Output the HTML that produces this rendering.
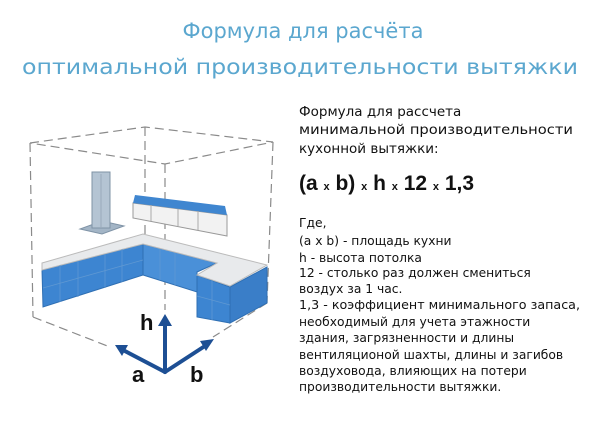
<!DOCTYPE html>
<html><head><meta charset="utf-8"><style>
html,body{margin:0;padding:0;background:#fff;}
svg{display:block;}
</style></head><body>
<svg width="600" height="421" viewBox="0 0 600 421" xmlns="http://www.w3.org/2000/svg">
<g font-family="'DejaVu Sans','Liberation Sans',sans-serif" fill="#5ba7cf" text-anchor="middle">
<text x="303" y="38" font-size="21">Формула для расчёта</text>
<text x="300" y="74" font-size="21" textLength="556" lengthAdjust="spacingAndGlyphs">оптимальной производительности вытяжки</text>
</g>
<!-- dashed box -->
<g stroke="#8a8a8a" stroke-width="1.2" stroke-dasharray="9,5" fill="none">
<polyline points="30,143 145,127 273,142 165,164 30,143"/>
<line x1="145" y1="127" x2="145" y2="237"/>
<line x1="165" y1="164" x2="165" y2="310"/>
<line x1="30" y1="143" x2="33" y2="317"/>
<line x1="273" y1="142" x2="267" y2="303"/>
<line x1="33" y1="317" x2="110" y2="347"/>
<line x1="267" y1="303" x2="213" y2="337"/>
</g>
<!-- hood -->
<polygon points="80,229 102,234 124,226 102,221" fill="#a3b5c6" stroke="#7f93a6"/>
<rect x="92" y="172" width="18" height="56" fill="#b4c4d3" stroke="#7f93a6"/>
<line x1="101" y1="174" x2="101" y2="228" stroke="#9aaabb"/>
<!-- upper cabinet -->
<polygon points="133,203 227,215 227,236 133,218" fill="#f2f2f2" stroke="#999"/>
<polygon points="135,195 225,206 227,215 133,203" fill="#3f86d0"/>
<g stroke="#aaa"><line x1="151" y1="205" x2="151" y2="221"/><line x1="178" y1="209" x2="178" y2="226"/><line x1="198" y1="211" x2="198" y2="230"/></g>
<!-- base counters: blue fronts -->
<polygon points="42,270 143,244 143,275 43,307" fill="#3d85d1" stroke="#2f6fb3"/>
<polygon points="143,244 217,263 197,272 197,292 143,275" fill="#4a90d8" stroke="#2f6fb3"/>
<polygon points="197,275 230,287 230,323 197,317" fill="#3d85d1" stroke="#2f6fb3"/>
<polygon points="230,287 267,267 267,303 230,323" fill="#3a7ec8" stroke="#2f6fb3"/>
<!-- counter top -->
<polygon points="42,263 143,234 267,265 230,286 197,275 217,263 143,244 42,270" fill="#e8eaec" stroke="#bbb"/>
<g stroke="#5f98d2" stroke-width="0.8">
<line x1="60" y1="265" x2="60" y2="302"/><line x1="78" y1="261" x2="78" y2="297"/><line x1="105" y1="254" x2="105" y2="288"/><line x1="122" y1="249" x2="122" y2="282"/>
<line x1="43" y1="288" x2="143" y2="260"/><line x1="160" y1="249" x2="160" y2="280"/><line x1="175" y1="253" x2="175" y2="285"/>
<line x1="197" y1="296" x2="230" y2="305"/><line x1="212" y1="280" x2="212" y2="320"/>
</g>
<!-- axes -->
<g stroke="#1d4f94" stroke-width="4" fill="none" stroke-linecap="round">
<line x1="165" y1="372" x2="165" y2="322"/>
<line x1="165" y1="372" x2="121" y2="349"/>
<line x1="165" y1="372" x2="208" y2="344"/>
</g>
<g fill="#1d4f94">
<polygon points="165,314 158,326 172,326"/>
<polygon points="115,345 128,345 122,356"/>
<polygon points="214,339 206,351 200,341"/>
</g>
<g font-family="'Liberation Sans',sans-serif" font-weight="bold" font-size="22" fill="#111">
<text x="140" y="330">h</text><text x="132" y="382">a</text><text x="190" y="382">b</text>
</g>
<!-- right text -->
<g font-family="'DejaVu Sans','Liberation Sans',sans-serif" fill="#111" font-size="13.5">
<text x="299" y="116">Формула для рассчета</text>
<text x="299" y="134" textLength="274" lengthAdjust="spacingAndGlyphs">минимальной производительности</text>
<text x="299" y="153">кухонной вытяжки:</text>
</g>
<text x="299" y="190" font-family="'Liberation Sans',sans-serif" font-weight="bold" font-size="21" fill="#111">(a <tspan font-size="11">x</tspan> b) <tspan font-size="11">x</tspan> h <tspan font-size="11">x</tspan> 12 <tspan font-size="11">x</tspan> 1,3</text>
<g font-family="'DejaVu Sans','Liberation Sans',sans-serif" fill="#111" font-size="12.3">
<text x="299" y="227">Где,</text>
<text x="299" y="245">(a x b) - площадь кухни</text>
<text x="299" y="262">h - высота потолка</text>
<text x="299" y="277">12 - столько раз должен смениться</text>
<text x="299" y="293">воздух за 1 час.</text>
<text x="299" y="309" textLength="281" lengthAdjust="spacingAndGlyphs">1,3 - коэффициент минимального запаса,</text>
<text x="299" y="326">необходимый для учета этажности</text>
<text x="299" y="342">здания, загрязненности и длины</text>
<text x="299" y="359">вентиляционой шахты, длины и загибов</text>
<text x="299" y="375">воздуховода, влияющих на потери</text>
<text x="299" y="391">производительности вытяжки.</text>
</g>
</svg>
</body></html>
